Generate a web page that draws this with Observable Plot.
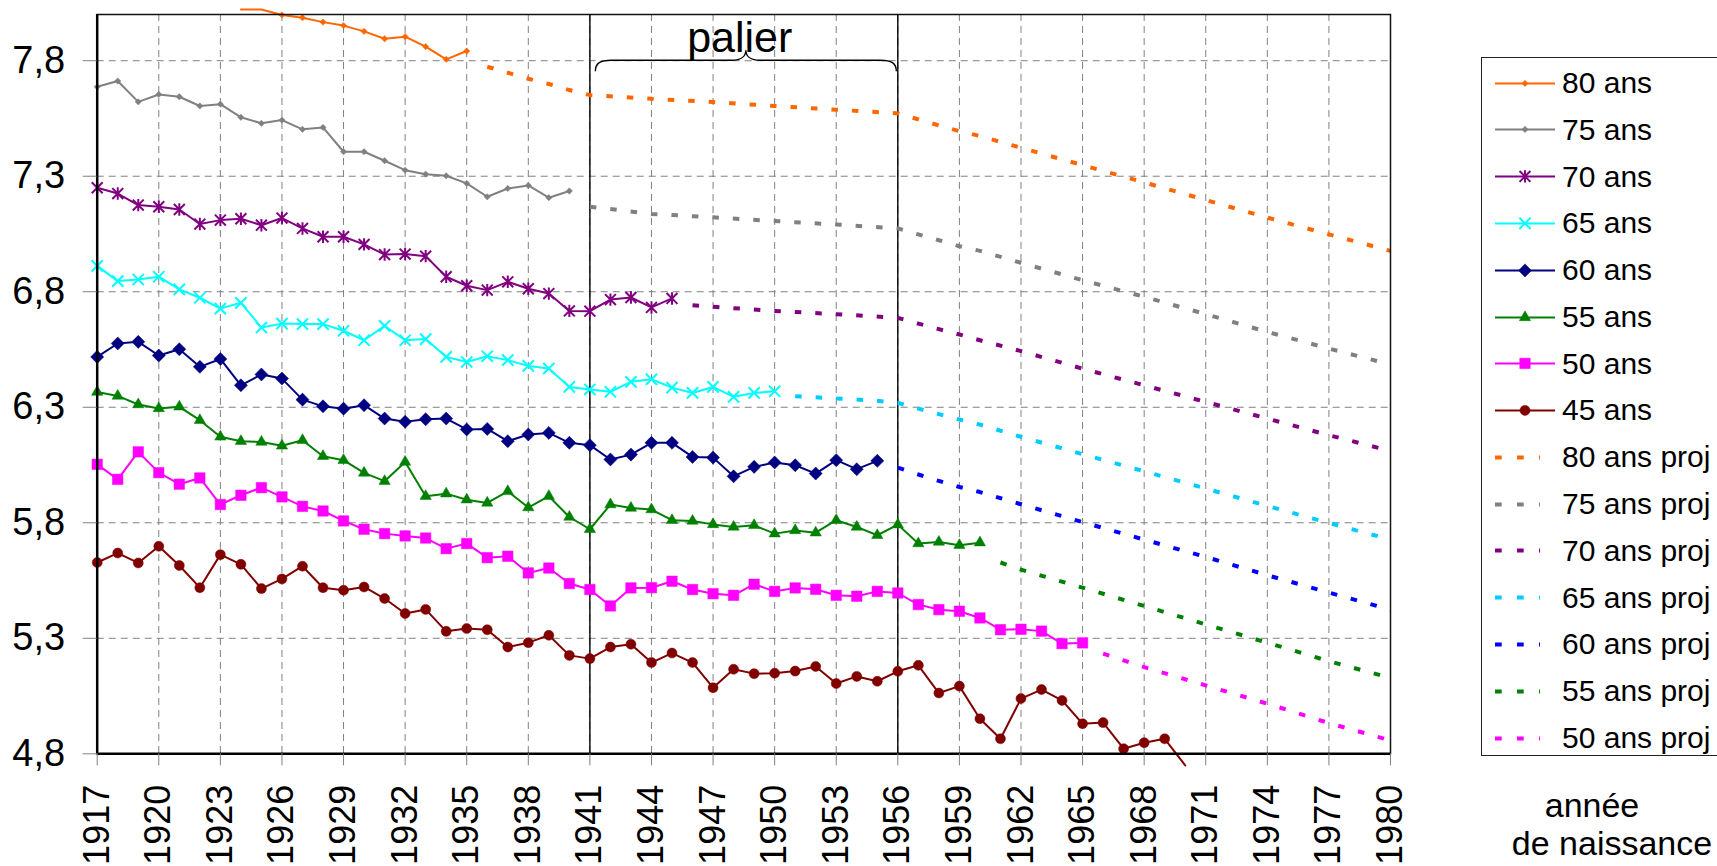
<!DOCTYPE html>
<html>
<head>
<meta charset="utf-8">
<script src="https://cdn.jsdelivr.net/npm/d3@7"></script>
<script src="https://cdn.jsdelivr.net/npm/@observablehq/plot@0.6"></script>
<style>
  body { margin: 0; background: #fff; width: 1717px; height: 866px; overflow: hidden; position: relative;
         font-family: "Liberation Sans", Arial, sans-serif; }
  #chart { position: absolute; left: 0; top: 0; }
  #legend { position: absolute; left: 1481px; top: 57px; width: 280px; height: 699px; border: 1.5px solid #222;
            box-sizing: border-box; padding-top: 1.6px; background: #fff; }
  .row { display: flex; align-items: center; height: 46.79px; font-size: 30px; color: #000; white-space: nowrap; }
  .row svg { flex: none; }
  .xtitle { position: absolute; width: 240px; text-align: center; font-size: 34px; line-height: 38px; color: #000; white-space: nowrap; }
</style>
</head>
<body>
<div id="chart"></div>
<div id="legend"></div>
<div id="xt1" class="xtitle" style="left:1472px; top:786px;"></div>
<div id="xt2" class="xtitle" style="left:1492px; top:824px;"></div>
<script>
// ---------------- DATA ----------------
const xTickYears = [1917, 1920, 1923, 1926, 1929, 1932, 1935, 1938, 1941, 1944, 1947, 1950,
                    1953, 1956, 1959, 1962, 1965, 1968, 1971, 1974, 1977, 1980];
const yTickValues = [4.8, 5.3, 5.8, 6.3, 6.8, 7.3, 7.8];

// observed series (one value per birth year, starting at firstYear)
const firstYear80 = 1924;
const ans80 = [8.022, 8.022, 7.998, 7.986, 7.967, 7.952, 7.927, 7.895, 7.904, 7.861, 7.806, 7.842];
const firstYear75 = 1917;
const ans75 = [7.687, 7.712, 7.622, 7.654, 7.644, 7.604, 7.612, 7.555, 7.529, 7.543, 7.503, 7.511,
               7.406, 7.406, 7.367, 7.326, 7.309, 7.302, 7.269, 7.211, 7.247, 7.260, 7.207, 7.236];
const firstYear70 = 1917;
const ans70 = [7.250, 7.225, 7.175, 7.168, 7.156, 7.093, 7.110, 7.116, 7.088, 7.119, 7.074, 7.038,
               7.038, 7.005, 6.961, 6.963, 6.954, 6.865, 6.826, 6.807, 6.843, 6.813, 6.792, 6.717,
               6.716, 6.766, 6.775, 6.732, 6.771];
const firstYear65 = 1917;
const ans65 = [6.912, 6.846, 6.853, 6.865, 6.810, 6.774, 6.727, 6.752, 6.645, 6.662, 6.660, 6.660,
               6.631, 6.590, 6.652, 6.590, 6.595, 6.518, 6.496, 6.521, 6.504, 6.479, 6.468, 6.388,
               6.377, 6.367, 6.410, 6.421, 6.385, 6.362, 6.388, 6.345, 6.362, 6.369];
const firstYear60 = 1917;
const ans60 = [6.518, 6.576, 6.583, 6.524, 6.551, 6.475, 6.509, 6.395, 6.442, 6.424, 6.333, 6.304,
               6.294, 6.309, 6.251, 6.237, 6.248, 6.251, 6.204, 6.206, 6.153, 6.182, 6.189, 6.146,
               6.136, 6.074, 6.095, 6.146, 6.146, 6.085, 6.082, 6.001, 6.042, 6.061, 6.049, 6.013,
               6.071, 6.032, 6.068];
const firstYear55 = 1917;
const ans55 = [6.366, 6.349, 6.312, 6.295, 6.302, 6.244, 6.172, 6.153, 6.150, 6.133, 6.157, 6.088,
               6.071, 6.016, 5.980, 6.063, 5.915, 5.926, 5.900, 5.886, 5.936, 5.866, 5.915, 5.825,
               5.772, 5.879, 5.864, 5.857, 5.811, 5.808, 5.793, 5.782, 5.789, 5.753, 5.767, 5.757,
               5.811, 5.782, 5.746, 5.792, 5.710, 5.717, 5.703, 5.714];
const firstYear50 = 1917;
const ans50 = [6.053, 5.988, 6.107, 6.017, 5.967, 5.994, 5.879, 5.919, 5.952, 5.912, 5.871, 5.851,
               5.808, 5.772, 5.753, 5.743, 5.734, 5.688, 5.710, 5.649, 5.655, 5.583, 5.604, 5.537,
               5.511, 5.440, 5.518, 5.519, 5.547, 5.511, 5.493, 5.486, 5.534, 5.503, 5.518, 5.512,
               5.486, 5.482, 5.503, 5.496, 5.446, 5.424, 5.417, 5.388, 5.337, 5.339, 5.331, 5.277, 5.280];
const firstYear45 = 1917;
const ans45 = [5.628, 5.669, 5.626, 5.698, 5.615, 5.519, 5.662, 5.620, 5.515, 5.557, 5.612, 5.519,
               5.508, 5.522, 5.472, 5.407, 5.425, 5.330, 5.342, 5.337, 5.262, 5.281, 5.313, 5.226,
               5.212, 5.262, 5.274, 5.195, 5.236, 5.195, 5.086, 5.166, 5.147, 5.149, 5.158, 5.178,
               5.104, 5.135, 5.114, 5.157, 5.183, 5.063, 5.093, 4.952, 4.865, 5.039, 5.078, 5.031,
               4.930, 4.935, 4.822, 4.848, 4.865, 4.750];

// projections (year, value pairs)
const proj80Years = [1936, 1937, 1938, 1939, 1940, 1941, 1944, 1947, 1950, 1953, 1956, 1957, 1958, 1959, 1960, 1962, 1965, 1968, 1971, 1974, 1977, 1980];
const proj80 =      [7.774, 7.748, 7.722, 7.699, 7.673, 7.651, 7.635, 7.621, 7.604, 7.588, 7.572, 7.546, 7.520, 7.495, 7.474, 7.423, 7.348, 7.273, 7.197, 7.121, 7.048, 6.977];
const proj75Years = [1941, 1944, 1947, 1950, 1953, 1956, 1957, 1958, 1959, 1960, 1962, 1965, 1968, 1971, 1974, 1977, 1980];
const proj75 =      [7.168, 7.137, 7.122, 7.106, 7.091, 7.074, 7.048, 7.023, 6.997, 6.977, 6.925, 6.850, 6.778, 6.703, 6.626, 6.554, 6.485];
const proj70Years = [1946, 1947, 1950, 1953, 1956, 1957, 1958, 1959, 1960, 1962, 1965, 1968, 1971, 1974, 1977, 1980];
const proj70 =      [6.742, 6.735, 6.717, 6.703, 6.687, 6.662, 6.638, 6.615, 6.590, 6.543, 6.467, 6.395, 6.323, 6.251, 6.179, 6.111];
const proj65Years = [1951, 1953, 1955, 1956, 1957, 1958, 1959, 1960, 1962, 1965, 1968, 1971, 1974, 1977, 1980];
const proj65 =      [6.348, 6.338, 6.328, 6.319, 6.294, 6.270, 6.247, 6.225, 6.172, 6.097, 6.023, 5.948, 5.873, 5.799, 5.727];
const proj60Years = [1956, 1957, 1958, 1959, 1960, 1962, 1965, 1968, 1971, 1974, 1977, 1980];
const proj60 =      [6.039, 6.009, 5.981, 5.955, 5.933, 5.880, 5.803, 5.727, 5.652, 5.573, 5.498, 5.424];
const proj55Years = [1961, 1962, 1965, 1968, 1971, 1974, 1977, 1980];
const proj55 =      [5.628, 5.597, 5.519, 5.440, 5.360, 5.281, 5.201, 5.128];
const proj50Years = [1966, 1967, 1968, 1971, 1974, 1977, 1980];
const proj50 =      [5.234, 5.204, 5.175, 5.096, 5.017, 4.933, 4.858];

// annotation
const palierYears = [1941, 1956];
const palierLevel = 7.8;
const palierLabel = "palier";
const xAxisTitle = ["année", "de naissance"];

// ---------------- STYLES ----------------
const excelAsterisk = {
  draw(ctx, size) {
    const r = Math.sqrt(size / Math.PI), a = r * 0.88;
    ctx.moveTo(-a, -a); ctx.lineTo(a, a);
    ctx.moveTo(-a, a); ctx.lineTo(a, -a);
    ctx.moveTo(0, -r); ctx.lineTo(0, r);
  }
};
const excelTimes = {
  draw(ctx, size) {
    const r = Math.sqrt(size / Math.PI);
    ctx.moveTo(-r, -r); ctx.lineTo(r, r);
    ctx.moveTo(-r, r); ctx.lineTo(r, -r);
  }
};
const solidStyle = {
  "80 ans": {color: "#FF6600", symbol: "square", rotate: 45, r: 2.5, filled: true},
  "75 ans": {color: "#808080", symbol: "square", rotate: 45, r: 2.5, filled: true},
  "70 ans": {color: "#800080", symbol: excelAsterisk, rotate: 0, r: 6.2, filled: false},
  "65 ans": {color: "#00FFFF", symbol: excelTimes, rotate: 0, r: 5.6, filled: false},
  "60 ans": {color: "#000080", symbol: "square", rotate: 45, r: 5.2, filled: true},
  "55 ans": {color: "#008000", symbol: "triangle", rotate: 0, r: 4.2, filled: true},
  "50 ans": {color: "#FF00FF", symbol: "square", rotate: 0, r: 5.9, filled: true},
  "45 ans": {color: "#800000", symbol: "circle", rotate: 0, r: 5, filled: true}
};
const projColor = {
  "80 ans proj": "#FF6600", "75 ans proj": "#808080", "70 ans proj": "#800080",
  "65 ans proj": "#00CCFF", "60 ans proj": "#0000FF", "55 ans proj": "#008000", "50 ans proj": "#FF00FF"
};
const projDash = "6.5,14";

// ---------------- BUILD TABLES ----------------
const solidSeries = [
  ["80 ans", firstYear80, ans80], ["75 ans", firstYear75, ans75], ["70 ans", firstYear70, ans70],
  ["65 ans", firstYear65, ans65], ["60 ans", firstYear60, ans60], ["55 ans", firstYear55, ans55],
  ["50 ans", firstYear50, ans50], ["45 ans", firstYear45, ans45]
].map(([name, start, values]) => ({name, rows: values.map((v, i) => ({year: start + i, value: v}))}));

const projSeries = [
  ["80 ans proj", proj80Years, proj80], ["75 ans proj", proj75Years, proj75],
  ["70 ans proj", proj70Years, proj70], ["65 ans proj", proj65Years, proj65],
  ["60 ans proj", proj60Years, proj60], ["55 ans proj", proj55Years, proj55],
  ["50 ans proj", proj50Years, proj50]
].map(([name, years, values]) => ({name, rows: years.map((y, i) => ({year: y, value: values[i]}))}));

const yDomain = [4.8, 8.0];
const inDomain = d => d.value >= yDomain[0] && d.value <= yDomain[1];

// brace render mark
function braceMark(index, scales) {
  const x = scales.x, y = scales.y;
  const x1 = x(palierYears[0]) + 6, x2 = x(palierYears[1]) - 1;
  const xm = (x1 + x2) / 2, y0 = y(palierLevel);
  const p = d3.path();
  p.moveTo(x1, y0 + 11);
  p.bezierCurveTo(x1, y0 + 3, x1 + 5, y0, x1 + 16, y0);
  p.lineTo(xm - 14, y0);
  p.bezierCurveTo(xm - 5, y0, xm, y0 - 4, xm, y0 - 10);
  p.bezierCurveTo(xm, y0 - 4, xm + 5, y0, xm + 14, y0);
  p.lineTo(x2 - 16, y0);
  p.bezierCurveTo(x2 - 5, y0, x2, y0 + 3, x2, y0 + 11);
  return d3.create("svg:path").attr("d", p.toString()).attr("fill", "none")
    .attr("stroke", "black").attr("stroke-width", 1.4).node();
}

const marks = [
  Plot.ruleY(yTickValues, {stroke: "#808080", strokeDasharray: "7,5", strokeWidth: 1}),
  Plot.ruleX(xTickYears, {stroke: "#808080", strokeDasharray: "7,5", strokeWidth: 1}),
  Plot.ruleX(palierYears, {stroke: "black", strokeWidth: 1.4})
];
for (const s of projSeries) {
  marks.push(Plot.line(s.rows, {x: "year", y: "value", stroke: projColor[s.name], strokeWidth: 4,
    strokeDasharray: projDash, strokeLinecap: "butt"}));
}
for (const s of solidSeries) {
  marks.push(Plot.line(s.rows, {x: "year", y: "value", stroke: solidStyle[s.name].color, strokeWidth: 2}));
}
for (const s of solidSeries) {
  const st = solidStyle[s.name];
  marks.push(Plot.dot(s.rows.filter(inDomain), {
    x: "year", y: "value", symbol: st.symbol, r: st.r, rotate: st.rotate,
    fill: st.filled ? st.color : "none", stroke: st.color, strokeWidth: st.filled ? 0.5 : 2
  }));
}
marks.push(
  Plot.frame({stroke: "#111", strokeWidth: 1.5}),
  Plot.ruleX([xTickYears[0]], {stroke: "black", strokeWidth: 2.5}),
  Plot.ruleY([yDomain[0]], {stroke: "black", strokeWidth: 2.5}),
  Plot.axisY({ticks: yTickValues, tickFormat: d => d.toFixed(1).replace(".", ","), tickSize: 14,
    tickPadding: 18, stroke: "#808080", fill: "black", fontSize: 38, label: null}),
  Plot.axisX({ticks: xTickYears, tickFormat: d => String(d), tickRotate: -90, tickSize: 12,
    tickPadding: 19, stroke: "#808080", fill: "black", fontSize: 36, label: null}),
  braceMark,
  Plot.text([palierLabel], {x: (palierYears[0] + palierYears[1]) / 2 - 0.2, y: palierLevel + 0.038,
    text: d => d, fontSize: 43, textAnchor: "middle", lineAnchor: "bottom", fill: "black"})
);

const chart = Plot.plot({
  width: 1440, height: 866,
  marginLeft: 96.7, marginRight: 50, marginTop: 14, marginBottom: 112.7,
  x: {domain: [1917, 1980]},
  y: {domain: yDomain},
  style: {fontFamily: "'Liberation Sans', Arial, sans-serif", fontSize: "36px", color: "black", background: "transparent"},
  marks
});
document.getElementById("chart").appendChild(chart);

document.getElementById("xt1").textContent = xAxisTitle[0];
document.getElementById("xt2").textContent = xAxisTitle[1];

// ---------------- LEGEND ----------------
const legend = d3.select("#legend");
const swatchW = 80, swatchH = 46.79;
function addRow(label, draw) {
  const row = legend.append("div").attr("class", "row");
  const svg = row.append("svg").attr("width", swatchW).attr("height", swatchH);
  draw(svg, swatchH / 2);
  row.append("span").text(label);
}
function symbolType(sym) {
  if (typeof sym === "object") return sym;
  return {square: d3.symbolSquare, triangle: d3.symbolTriangle, circle: d3.symbolCircle}[sym];
}
for (const s of solidSeries) {
  const st = solidStyle[s.name];
  addRow(s.name, (svg, cy) => {
    svg.append("line").attr("x1", 13).attr("x2", 73).attr("y1", cy).attr("y2", cy)
      .attr("stroke", st.color).attr("stroke-width", 2);
    svg.append("path").attr("d", d3.symbol(symbolType(st.symbol), Math.PI * st.r * st.r)())
      .attr("transform", `translate(43,${cy}) rotate(${st.rotate})`)
      .attr("fill", st.filled ? st.color : "none").attr("stroke", st.color)
      .attr("stroke-width", st.filled ? 0.5 : 2);
  });
}
for (const s of projSeries) {
  addRow(s.name, (svg, cy) => {
    svg.append("line").attr("x1", 13).attr("x2", 58).attr("y1", cy).attr("y2", cy)
      .attr("stroke", projColor[s.name]).attr("stroke-width", 4).attr("stroke-dasharray", "6.7,15.3");
  });
}
</script>
</body>
</html>
